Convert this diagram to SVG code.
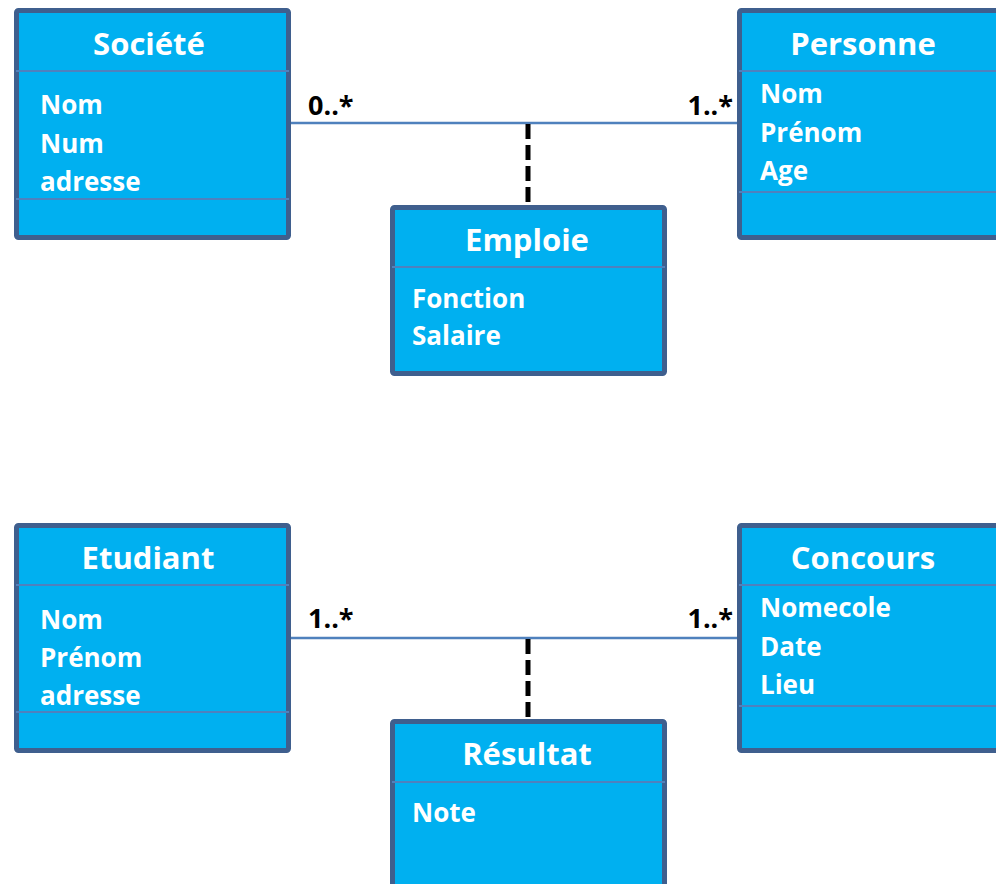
<svg xmlns="http://www.w3.org/2000/svg" width="996" height="884" viewBox="0 0 996 884">
  <style>
    .box { fill: #00b0f0; stroke: #3f5f8e; stroke-width: 5; }
    .sep { stroke: #4f81bd; stroke-width: 2; }
    .title { font-family: "Open Sans", "Liberation Sans", sans-serif; font-weight: 700; font-size: 31px; fill: #ffffff; text-anchor: middle; }
    .attr { font-family: "Open Sans", "Liberation Sans", sans-serif; font-weight: 700; font-size: 26px; fill: #ffffff; }
    .mult { font-family: "Open Sans", "Liberation Sans", sans-serif; font-weight: 700; font-size: 27px; fill: #000000; }
    .assoc { stroke: #4f81bd; stroke-width: 2.5; fill: none; }
    .link { stroke: #000000; stroke-width: 5; stroke-dasharray: 15 6; fill: none; }
  </style>

  <!-- associations and association-class links -->
  <g id="connectors">
    <line class="assoc" x1="291" y1="123" x2="737" y2="123"/>
    <line class="link" x1="528" y1="124" x2="528" y2="205"/>
    <text class="mult" x="308" y="115">0..*</text>
    <text class="mult" x="733" y="115" text-anchor="end">1..*</text>

    <line class="assoc" x1="291" y1="638" x2="737" y2="638"/>
    <line class="link" x1="528" y1="639" x2="528" y2="719"/>
    <text class="mult" x="308" y="628">1..*</text>
    <text class="mult" x="733" y="628" text-anchor="end">1..*</text>
  </g>

  <g id="societe">
    <rect class="box" x="16.5" y="10.5" width="272" height="227" rx="2"/>
    <line class="sep" x1="16" y1="71" x2="289" y2="71"/>
    <line class="sep" x1="16" y1="199" x2="289" y2="199"/>
    <text class="title" x="149" y="55">Société</text>
    <text class="attr" x="40" y="114">Nom</text>
    <text class="attr" x="40" y="153">Num</text>
    <text class="attr" x="40" y="191">adresse</text>
  </g>

  <g id="personne">
    <rect class="box" x="739.5" y="10.5" width="272" height="227" rx="2"/>
    <line class="sep" x1="739" y1="71" x2="1012" y2="71"/>
    <line class="sep" x1="739" y1="192" x2="1012" y2="192"/>
    <text class="title" x="863" y="55">Personne</text>
    <text class="attr" x="760" y="103">Nom</text>
    <text class="attr" x="760" y="142">Prénom</text>
    <text class="attr" x="760" y="180">Age</text>
  </g>

  <g id="emploie">
    <rect class="box" x="392.5" y="207.5" width="272" height="166" rx="2"/>
    <line class="sep" x1="392" y1="267" x2="665" y2="267"/>
    <text class="title" x="527" y="251">Emploie</text>
    <text class="attr" x="412" y="308">Fonction</text>
    <text class="attr" x="412" y="345">Salaire</text>
  </g>

  <g id="etudiant">
    <rect class="box" x="16.5" y="525.5" width="272" height="225" rx="2"/>
    <line class="sep" x1="16" y1="585" x2="289" y2="585"/>
    <line class="sep" x1="16" y1="712" x2="289" y2="712"/>
    <text class="title" x="148" y="569">Etudiant</text>
    <text class="attr" x="40" y="629">Nom</text>
    <text class="attr" x="40" y="667">Prénom</text>
    <text class="attr" x="40" y="705">adresse</text>
  </g>

  <g id="concours">
    <rect class="box" x="739.5" y="525.5" width="272" height="225" rx="2"/>
    <line class="sep" x1="739" y1="585" x2="1012" y2="585"/>
    <line class="sep" x1="739" y1="706" x2="1012" y2="706"/>
    <text class="title" x="863" y="569">Concours</text>
    <text class="attr" x="760" y="617">Nomecole</text>
    <text class="attr" x="760" y="656">Date</text>
    <text class="attr" x="760" y="694">Lieu</text>
  </g>

  <g id="resultat">
    <rect class="box" x="392.5" y="721.5" width="272" height="190" rx="2"/>
    <line class="sep" x1="392" y1="782" x2="665" y2="782"/>
    <text class="title" x="527" y="765">Résultat</text>
    <text class="attr" x="412" y="822">Note</text>
  </g>
</svg>
